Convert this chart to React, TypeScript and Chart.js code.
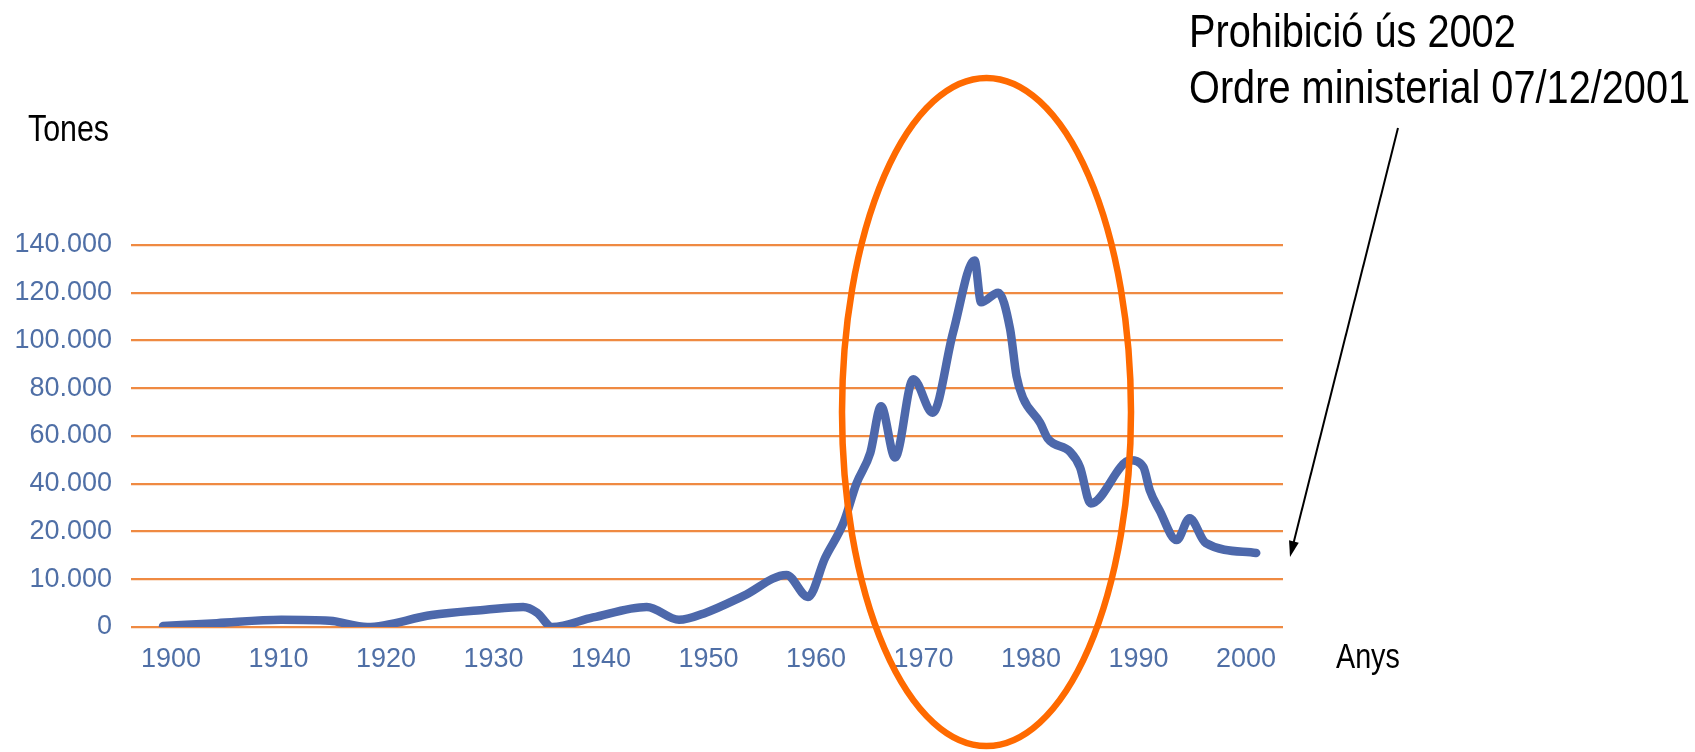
import React, { useEffect, useRef } from "react";
import { Chart, registerables } from "chart.js";

Chart.register(...registerables);

// Data
const YEARS = [
  1900, 1905, 1911, 1915.5, 1919, 1925, 1930, 1933.5, 1934.8, 1936.2,
  1940, 1945, 1948, 1950.5, 1954, 1958, 1960, 1961.6, 1963.3, 1964.5,
  1965.8, 1966.8, 1968.1, 1969.8, 1971.6, 1973.5, 1975.5, 1976.1, 1977.7, 1978.8,
  1979.4, 1980, 1981.6, 1982.3, 1984.4, 1985.3, 1986.3, 1990, 1991.2, 1991.8,
  1992.7, 1994.3, 1995.5, 1997, 2001.7,
];
const TONNES = [
  200, 800, 1500, 1300, 0, 2500, 3600, 4200, 3000, 0,
  2000, 4200, 1500, 3000, 6500, 10900, 6300, 14500, 23600, 40000,
  53000, 72500, 51000, 83800, 69700, 103400, 133500, 116000, 120000, 104800,
  85000, 76000, 65500, 59000, 53300, 47000, 31700, 49800, 47000, 37200,
  28900, 18200, 25500, 17600, 15500,
];
// Y axis: evenly spaced gridlines with these (uneven) tonne values
const Y_TICK_TONNES = [0, 10000, 20000, 40000, 60000, 80000, 100000, 120000, 140000];
const Y_TICK_LABELS = ["0", "10.000", "20.000", "40.000", "60.000", "80.000", "100.000", "120.000", "140.000"];
const X_TICKS = [1900, 1910, 1920, 1930, 1940, 1950, 1960, 1970, 1980, 1990, 2000];

const SANS = "'Liberation Sans', Arial, sans-serif";
const TICK_COLOR = "#4f6fa6";

// map tonnes onto the evenly spaced gridline index scale
function toAxis(t: number): number {
  for (let i = 0; i < Y_TICK_TONNES.length - 1; i++) {
    const a = Y_TICK_TONNES[i];
    const b = Y_TICK_TONNES[i + 1];
    if (t <= b) return i + (t - a) / (b - a);
  }
  return Y_TICK_TONNES.length - 1;
}

const overlayPlugin = {
  id: "overlay",
  afterDraw(chart: any) {
    const ctx = chart.ctx;
    ctx.save();
    // orange ellipse
    ctx.beginPath();
    ctx.ellipse(986.5, 412, 144.5, 334, 0, 0, Math.PI * 2);
    ctx.strokeStyle = "#ff6a00";
    ctx.lineWidth = 6.5;
    ctx.stroke();
    // arrow
    const x1 = 1398, y1 = 128, x2 = 1290, y2 = 557;
    const ang = Math.atan2(y2 - y1, x2 - x1);
    const hl = 16, hw = 5;
    ctx.beginPath();
    ctx.moveTo(x1, y1);
    ctx.lineTo(x2 - Math.cos(ang) * hl * 0.8, y2 - Math.sin(ang) * hl * 0.8);
    ctx.strokeStyle = "#000";
    ctx.lineWidth = 2;
    ctx.stroke();
    ctx.beginPath();
    ctx.moveTo(x2, y2);
    ctx.lineTo(x2 - Math.cos(ang) * hl - Math.sin(ang) * hw, y2 - Math.sin(ang) * hl + Math.cos(ang) * hw);
    ctx.lineTo(x2 - Math.cos(ang) * hl + Math.sin(ang) * hw, y2 - Math.sin(ang) * hl - Math.cos(ang) * hw);
    ctx.closePath();
    ctx.fillStyle = "#000";
    ctx.fill();
    ctx.restore();
  },
};

export default function App() {
  const ref = useRef<HTMLCanvasElement | null>(null);

  useEffect(() => {
    if (!ref.current) return;
    const points = YEARS.map((y, i) => ({ x: y, y: toAxis(TONNES[i]) }));
    const chart = new Chart(ref.current, {
      type: "line",
      data: {
        datasets: [
          {
            data: points,
            borderColor: "#4d68ab",
            borderWidth: 8.5,
            pointRadius: 0,
            cubicInterpolationMode: "monotone",
            borderCapStyle: "round",
            borderJoinStyle: "round",
            fill: false,
          },
        ],
      },
      options: {
        animation: false,
        responsive: false,
        maintainAspectRatio: false,
        events: [],
        layout: { padding: { left: 0, right: 412, top: 245, bottom: 0 } },
        plugins: { legend: { display: false }, tooltip: { enabled: false } },
        scales: {
          x: {
            type: "linear",
            min: 1897.02,
            max: 2004.19,
            grid: { display: false, drawTicks: false },
            border: { display: false },
            afterBuildTicks: (scale: any) => {
              scale.ticks = X_TICKS.map((v) => ({ value: v }));
            },
            afterFit: (scale: any) => {
              scale.height = 125;
            },
            ticks: {
              autoSkip: false,
              maxRotation: 0,
              padding: 16,
              labelOffset: 8,
              color: TICK_COLOR,
              font: { family: SANS, size: 27 },
              callback: (v: any) => String(v),
            },
          },
          y: {
            type: "linear",
            min: 0,
            max: Y_TICK_LABELS.length - 1,
            grid: { color: "#ef8a42", lineWidth: 2.2, drawTicks: false },
            border: { display: false },
            afterFit: (scale: any) => {
              scale.width = 131;
            },
            ticks: {
              stepSize: 1,
              padding: 19,
              color: TICK_COLOR,
              font: { family: SANS, size: 27 },
              callback: (v: any) => Y_TICK_LABELS[Math.round(v)] ?? "",
            },
          },
        },
      },
      plugins: [overlayPlugin],
    } as any);
    return () => chart.destroy();
  }, []);

  const txt = (extra: React.CSSProperties, sx = 0.82): React.CSSProperties => ({
    position: "absolute",
    fontFamily: SANS,
    color: "#000",
    whiteSpace: "nowrap",
    lineHeight: 1,
    margin: 0,
    transform: `scaleX(${sx})`,
    transformOrigin: "0 0",
    ...extra,
  });

  return (
    <div style={{ position: "absolute", left: 0, top: 0, width: 1695, height: 752, background: "#fff" }}>
      <canvas ref={ref} width={1695} height={752} style={{ position: "absolute", left: 0, top: 0, width: 1695, height: 752 }} />
      <div style={txt({ left: 1189, top: 7, fontSize: 47 }, 0.845)}>Prohibició ús 2002</div>
      <div style={txt({ left: 1189, top: 63, fontSize: 47 }, 0.845)}>Ordre ministerial 07/12/2001</div>
      <div style={txt({ left: 28, top: 110, fontSize: 37 })}>Tones</div>
      <div style={txt({ left: 1336, top: 638, fontSize: 35 })}>Anys</div>
    </div>
  );
}
